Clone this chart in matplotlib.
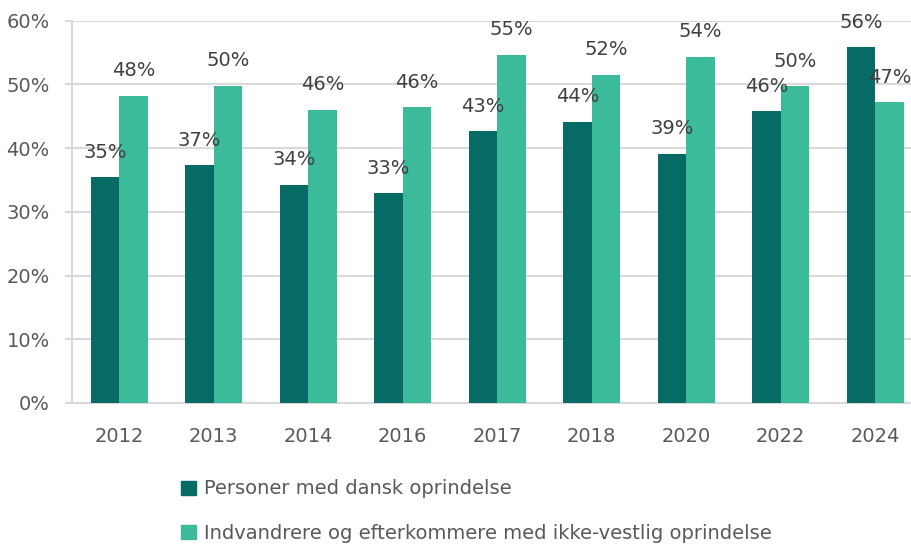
import numpy as np
import matplotlib.pyplot as plt
from matplotlib.patches import Patch

years = ["2012", "2013", "2014", "2016", "2017", "2018", "2020", "2022", "2024"]
dansk = [35.4, 37.3, 34.2, 32.9, 42.6, 44.1, 39.1, 45.8, 55.8]
ikke_vestlig = [48.2, 49.8, 46.0, 46.4, 54.6, 51.5, 54.3, 49.7, 47.2]
series_names = ["Personer med dansk oprindelse",
                "Indvandrere og efterkommere med ikke-vestlig oprindelse"]

dark = "#066b65"
light = "#3cbb9b"
grid_c = "#d9d9d9"
tick_c = "#595959"
label_c = "#404040"

plt.rcParams['font.family'] = ['DejaVu Sans']

fig = plt.figure(figsize=(9.12, 5.44), dpi=100)
W, H = 912, 544
ax = fig.add_axes([72 / W, 1 - 403 / H, (922.5 - 72) / W, (403 - 20.5) / H])

x = np.arange(len(years))
w = 0.30
b1 = ax.bar(x - w / 2, dansk, w, color=dark, zorder=3)
b2 = ax.bar(x + w / 2, ikke_vestlig, w, color=light, zorder=3)

for bars, vals in ((b1, dansk), (b2, ikke_vestlig)):
    for r, v in zip(bars, vals):
        ax.annotate(f"{round(v):d}%", (r.get_x() + r.get_width() / 2, v),
                    xytext=(0, 18), textcoords="offset points",
                    ha="center", va="center", fontsize=14, color=label_c,
                    zorder=4)

ax.set_xlim(-0.5, len(years) - 0.5)
ax.set_ylim(0, 60)
ax.set_yticks(range(0, 61, 10))
ax.set_yticklabels([f"{t}%" for t in range(0, 61, 10)])
ax.set_xticks(x)
ax.set_xticklabels(years)
ax.yaxis.grid(True, color=grid_c, linewidth=1.5, zorder=0)
ax.tick_params(axis="y", length=5, width=1.5, color=grid_c, labelsize=14,
               labelcolor=tick_c, pad=11)
ax.tick_params(axis="x", length=0, labelsize=14, labelcolor=tick_c, pad=17)
for s in ("top", "right"):
    ax.spines[s].set_visible(False)
for s in ("left", "bottom"):
    ax.spines[s].set_color(grid_c)
    ax.spines[s].set_linewidth(1.5)

handles = [Patch(color=dark), Patch(color=light)]
fig.legend(handles, series_names, loc="upper left",
           bbox_to_anchor=(164 / W, 1 - 462 / H), frameon=False,
           fontsize=14, labelcolor=tick_c, handlelength=0.75,
           handleheight=0.75, handletextpad=0.4, labelspacing=1.3)

fig.savefig("out.png", dpi=100)
